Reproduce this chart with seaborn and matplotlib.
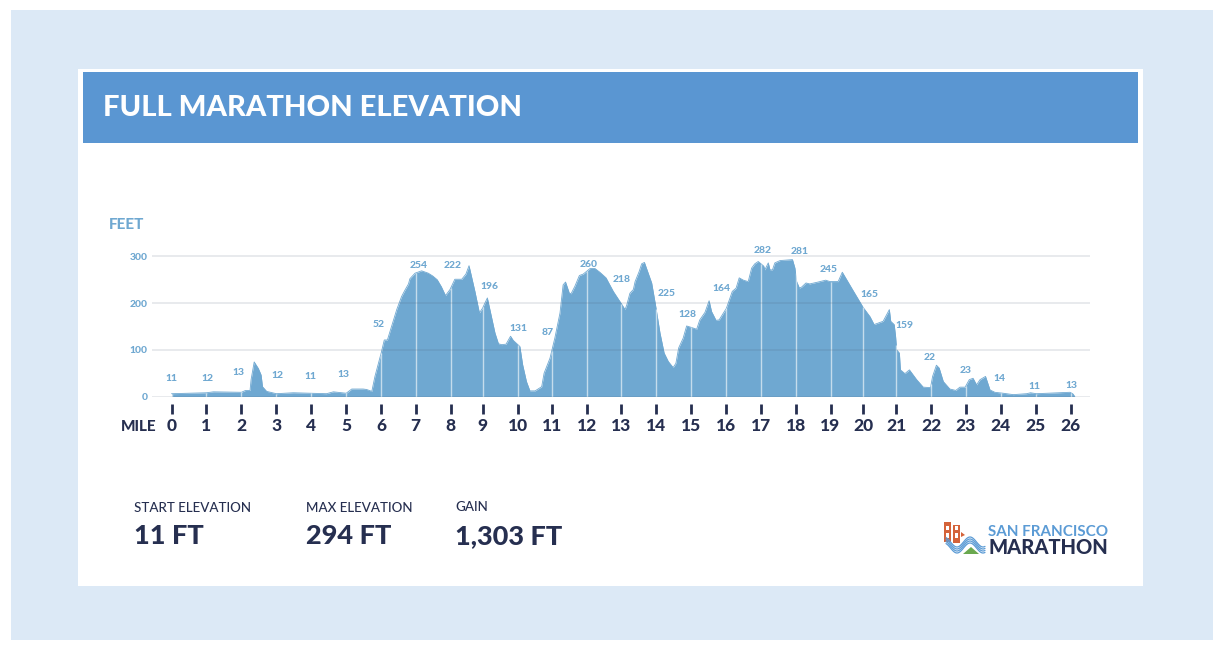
import numpy as np
import pandas as pd
import seaborn as sns
import matplotlib.pyplot as plt
from matplotlib.patches import Rectangle, Polygon

# Elevation profile
course_pos = [0, 1.01, 1.21, 2.02, 2.14, 2.27, 2.30, 2.39, 2.51, 2.59, 2.63, 2.75, 3.03, 3.52, 4.04, 4.48, 4.68,
              5.05, 5.21, 5.35, 5.54, 5.64, 5.79, 5.88, 6.06, 6.15, 6.24, 6.36, 6.51, 6.65, 6.75, 6.85, 6.89, 7.04,
              7.23, 7.42, 7.55, 7.68, 7.80, 7.92, 8.05, 8.19, 8.39, 8.51, 8.60, 8.77, 8.90, 8.99, 9.13, 9.25, 9.35,
              9.45, 9.54, 9.67, 9.80, 9.88, 9.98, 10.07, 10.15, 10.26, 10.36, 10.51, 10.70, 10.77, 10.94, 11.08,
              11.23, 11.32, 11.39, 11.50,
              11.55, 11.66, 11.79, 11.90, 12.10, 12.24, 12.38, 12.56, 12.77, 13.00, 13.11, 13.16, 13.25, 13.35,
              13.40, 13.52, 13.59, 13.67, 13.76, 13.88, 13.99, 14.12, 14.24, 14.36, 14.50, 14.58, 14.66, 14.79,
              14.89, 15.02, 15.18, 15.27, 15.42, 15.54, 15.61, 15.74, 15.83, 16.04, 16.21, 16.32, 16.41, 16.53,
              16.67, 16.77, 16.86, 16.96, 17.04, 17.12, 17.15, 17.25, 17.30, 17.37, 17.44, 17.59, 17.95, 18.02,
              18.07, 18.15, 18.21, 18.34, 18.45, 18.69, 18.91, 19.03, 19.27, 19.39, 19.66, 19.99, 20.19, 20.31,
              20.57, 20.75, 20.79, 20.89, 20.93, 20.96, 21.04, 21.07, 21.20, 21.33, 21.54, 21.73, 21.94, 22.00,
              22.11, 22.19, 22.31, 22.50, 22.67, 22.79, 22.94, 23.06, 23.17, 23.27, 23.37, 23.53, 23.66, 23.80,
              24.04, 24.33, 24.72, 24.83, 25.00, 25.97, 26.05, 26.11]
elevation = [6, 8, 10, 9, 13, 13, 36, 74, 60, 46, 21, 11, 6, 8, 7, 6, 10,
             7, 16, 16, 16, 15, 11, 43, 93, 121, 121, 150, 186, 214, 228, 241, 252, 264,
             269, 264, 258, 250, 235, 216, 229, 251, 251, 262, 280, 225, 179, 189, 211, 170, 136,
             113, 111, 112, 129, 120, 113, 107, 68, 32, 12, 12, 21, 50, 82, 125,
             179, 239, 245, 221,
             220, 236, 259, 262, 274, 274, 266, 254, 225, 199, 186, 196, 221, 229,
             246, 268, 284, 287, 268, 243, 196, 136, 93, 75, 62, 71, 104, 125,
             151, 148, 144, 164, 180, 205, 182, 163, 164, 189, 225, 232, 254, 249,
             246, 275, 284, 289, 284, 279, 271, 286, 271, 271, 286, 291, 293, 275,
             246, 232, 234, 243, 241, 245, 249, 246, 246, 266, 232, 191, 171, 154,
             161, 186, 161, 154, 129, 100, 93, 57, 49, 57, 36, 20, 19, 43,
             67, 61, 32, 16, 13, 20, 20, 36, 39, 25, 36, 43, 14, 9,
             7, 4, 6, 8, 6, 9, 6, 0]

mile_labels = [str(m) for m in range(27)]
mile_ticks = [0, 1.01, 2.02, 3.03, 4.04, 5.05, 6.06, 7.06, 8.07, 9.0, 10.03, 10.99, 12.0, 13.0, 14.01, 15.02,
              16.04, 17.04, 18.04, 19.05, 19.99, 20.95, 21.96, 22.96, 23.97, 24.98, 25.99]

callouts = [11, 12, 13, 12, 11, 13, 52, 254, 222, 196, 131, 87, 260, 218, 225, 128, 164, 282, 281, 245, 165, 159,
            22, 23, 14, 11, 13]
callout_x = [0, 1.03, 1.94, 3.05, 4.03, 4.98, 5.98, 7.14, 8.13, 9.18, 10.04, 10.88, 12.07, 13.0, 14.32, 14.91,
             15.91, 17.09, 18.17, 19.0, 20.16, 21.2, 21.92, 22.96, 23.94, 24.93, 26.0]
callout_y = [39, 38, 52, 45, 43, 47, 155, 281, 280, 236, 145, 136, 283, 251, 221, 176, 232, 313, 311, 272, 219,
             153, 84, 56, 39, 22, 24]

y_ticks = [0, 100, 200, 300]
stat_names = ["START ELEVATION", "MAX ELEVATION", "GAIN"]
stat_values = ["11 FT", "294 FT", "1,303 FT"]

NAVY = "#262f50"
BLUE = "#6fa8d1"
W, H = 1224, 651

sns.set_theme(style="white")
plt.rcParams["font.family"] = ["Lato", "DejaVu Sans"]

fig = plt.figure(figsize=(W / 100, H / 100), dpi=100, facecolor="white")

# page furniture, in pixel coordinates
bg = fig.add_axes([0, 0, 1, 1], zorder=0)
bg.set_xlim(0, W)
bg.set_ylim(H, 0)
bg.axis("off")
bg.add_patch(Rectangle((11, 10), 1202, 630, color="#dce9f6", lw=0))
bg.add_patch(Rectangle((78, 69), 1065, 517, color="white", lw=0))
bg.add_patch(Rectangle((83, 72), 1055, 71, color="#5a96d2", lw=0))
bg.text(103, 108, "FULL MARATHON ELEVATION", color="white", fontsize=21, fontweight="black", va="center")
bg.text(109, 225, "FEET", color=BLUE, fontsize=11, fontweight="black", va="center")

for x, y_name, name, value in zip([134, 306, 455], [508, 508, 507], stat_names, stat_values):
    bg.text(x, y_name, name, color=NAVY, fontsize=9.6, fontweight="medium", va="center")
    bg.text(x, 536, value, color=NAVY, fontsize=19.5, fontweight="black", va="center")

# logo
bg.add_patch(Rectangle((944, 522), 7, 20, color="#d4633a", lw=0))
bg.add_patch(Rectangle((953, 525), 7, 18, color="#d4633a", lw=0))
for tx in (946, 955):
    bg.add_patch(Rectangle((tx, 526), 3, 4, color="white", lw=0))
    bg.add_patch(Rectangle((tx, 533), 3, 5, color="white", lw=0))
bg.add_patch(Polygon([(961, 532), (965, 535), (961, 537)], color="#d4633a", lw=0))
bg.add_patch(Polygon([(963, 554), (971, 547), (979, 554)], color="#6aa84f", lw=0))
wave_x = np.linspace(946, 985, 50)
for off in range(4):
    wave_y = 542 + off * 2 - 5 * np.cos((wave_x - 970) / 13 * np.pi)
    bg.plot(wave_x, wave_y, color="#5b9bd5", lw=0.9)
bg.text(988, 532, "SAN FRANCISCO", color="#5b9bd5", fontsize=10.9, fontweight="bold", va="center")
bg.text(988, 548, "MARATHON", color=NAVY, fontsize=14.5, fontweight="black", va="center")

# chart axes: 34.6 px per course unit, 0.4667 px per foot
ax = fig.add_axes([152 / W, (H - 396.5) / H, 938 / W, 156.5 / H], zorder=1)
ax.patch.set_alpha(0)
df = pd.DataFrame({"mile": course_pos, "feet": elevation})
ax.fill_between(df["mile"], 0, df["feet"], color=BLUE, lw=0, zorder=1)
sns.lineplot(data=df, x="mile", y="feet", color=BLUE, lw=0.6, ax=ax, zorder=1)

ax.vlines(mile_ticks, 0, np.interp(mile_ticks, df["mile"], df["feet"]), color="white", alpha=0.6, lw=1, zorder=2)
for y in y_ticks:
    ax.axhline(y, color="#4f6278", alpha=0.17, lw=1.1, zorder=3)

ax.set_xlim(-0.564, 26.55)
ax.set_ylim(0, 335)
sns.despine(ax=ax, left=True, bottom=True)
ax.set_xlabel("")
ax.set_ylabel("")
ax.set_xticks([])
ax.set_yticks(y_ticks)
ax.tick_params(axis="y", length=0, pad=3, labelsize=7.5, labelcolor=BLUE)
for lab in ax.get_yticklabels():
    lab.set_fontweight("black")

ax.vlines(mile_ticks, -37.5, -16, color=NAVY, lw=2, clip_on=False)
for x, lab in zip(mile_ticks, mile_labels):
    ax.text(x, -64, lab, color=NAVY, fontsize=12.5, fontweight="black", ha="center", va="center")
ax.text(-0.42, -66, "MILE", color=NAVY, fontsize=11, fontweight="black", ha="right", va="center")

for x, y, val in zip(callout_x, callout_y, callouts):
    ax.text(x, y, str(val), color=BLUE, fontsize=7.5, fontweight="black", ha="center", va="center")

fig.savefig("out.png", dpi=100)
